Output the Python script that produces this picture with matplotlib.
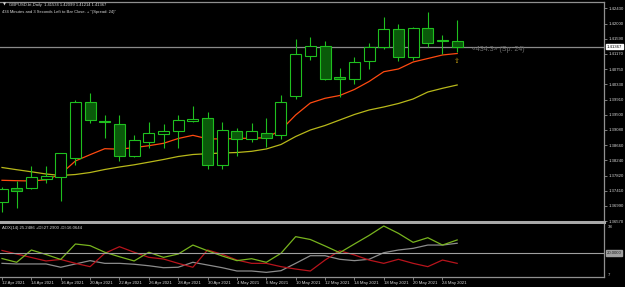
import numpy as np
import matplotlib
matplotlib.use('Agg')
import matplotlib.pyplot as plt
import matplotlib.transforms as mtransforms

# daily GBPUSD bars, 12 Apr 2021 .. 25 May 2021
opens = [1.37095, 1.37472, 1.37472, 1.37728, 1.37791, 1.38297, 1.39837, 1.39309,
         1.39240, 1.38352, 1.38737, 1.38957, 1.39048, 1.39331, 1.39397, 1.38104,
         1.39048, 1.38836, 1.39001, 1.38938, 1.40018, 1.41118, 1.41377, 1.40524,
         1.40469, 1.40981, 1.41349, 1.41844, 1.41091, 1.41872, 1.41536, 1.41534]
highs = [1.37508, 1.37673, 1.38085, 1.38085, 1.38450, 1.39900, 1.40084, 1.39488,
         1.39488, 1.38938, 1.39287, 1.39232, 1.39488, 1.39743, 1.39562, 1.39303,
         1.39122, 1.39259, 1.39397, 1.40038, 1.41569, 1.41641, 1.41514, 1.40772,
         1.41091, 1.41459, 1.42191, 1.41990, 1.41899, 1.42312, 1.41696, 1.42099]
lows = [1.36820, 1.36930, 1.37453, 1.37618, 1.37131, 1.38113, 1.39259, 1.38847,
        1.38231, 1.38324, 1.38572, 1.38572, 1.38588, 1.39295, 1.37994, 1.37994,
        1.38360, 1.38745, 1.38616, 1.38828, 1.39928, 1.41000, 1.40450, 1.39991,
        1.40332, 1.40753, 1.41294, 1.40964, 1.41000, 1.41366, 1.41157, 1.41214]
closes = [1.37444, 1.37411, 1.37774, 1.37818, 1.38434, 1.39837, 1.39350, 1.39298,
          1.38352, 1.38792, 1.38984, 1.39056, 1.39342, 1.39378, 1.38104, 1.39067,
          1.38836, 1.39048, 1.38847, 1.39837, 1.41157, 1.41377, 1.40486, 1.40469,
          1.40945, 1.41358, 1.41844, 1.41091, 1.41872, 1.41476, 1.41550, 1.41367]

ma_fast = [1.37692, 1.37681, 1.37673, 1.37706, 1.37865, 1.38223, 1.38396, 1.38561,
           1.38547, 1.38591, 1.38643, 1.38709, 1.38841, 1.38929, 1.38833, 1.38828,
           1.38841, 1.38850, 1.38861, 1.39075, 1.39488, 1.39818, 1.39947, 1.40024,
           1.40189, 1.40409, 1.40678, 1.40753, 1.40945, 1.41041, 1.41138, 1.41179]
ma_slow = [1.38044, 1.37983, 1.37926, 1.37865, 1.37824, 1.37851, 1.37906, 1.37989,
           1.38058, 1.38118, 1.38190, 1.38264, 1.38346, 1.38401, 1.38423, 1.38443,
           1.38456, 1.38489, 1.38553, 1.38676, 1.38896, 1.39075, 1.39199, 1.39350,
           1.39501, 1.39625, 1.39708, 1.39804, 1.39928, 1.40120, 1.40222, 1.40313]

plus_di = [16.3, 13.8, 22.0, 19.0, 15.7, 26.0, 24.9, 20.5, 17.5, 14.7, 20.5, 17.1,
           19.3, 25.3, 21.5, 18.0, 14.9, 16.2, 13.8, 19.8, 30.9, 29.0, 24.7, 20.2,
           26.0, 31.7, 38.0, 33.1, 27.1, 30.2, 25.3, 28.7]
minus_di = [21.7, 19.3, 17.0, 14.7, 15.7, 13.1, 10.9, 19.8, 24.2, 20.5, 17.1, 16.0,
            13.1, 10.5, 22.0, 19.1, 15.3, 13.1, 13.1, 10.9, 9.3, 8.0, 15.3, 21.5,
            18.7, 15.3, 13.1, 15.8, 13.1, 10.9, 15.3, 13.1]
adx = [13.1, 12.7, 12.7, 12.7, 10.5, 12.7, 14.9, 13.1, 13.1, 12.5, 11.5, 10.2,
       10.5, 13.8, 12.0, 10.2, 8.0, 8.0, 7.1, 8.2, 13.1, 18.2, 18.2, 15.8,
       14.9, 15.8, 20.2, 22.0, 23.1, 25.3, 25.3, 26.5]

date_labels = ['12 Apr 2021', '14 Apr 2021', '16 Apr 2021', '20 Apr 2021',
               '22 Apr 2021', '26 Apr 2021', '28 Apr 2021', '30 Apr 2021',
               '4 May 2021', '6 May 2021', '10 May 2021', '12 May 2021',
               '14 May 2021', '18 May 2021', '20 May 2021', '24 May 2021']
price_ticks = [1.42430, 1.42000, 1.41590, 1.41170, 1.40750, 1.40330, 1.39910,
               1.39500, 1.39080, 1.38660, 1.38240, 1.37820, 1.37410, 1.36990, 1.36570]
last_price = 1.41367

W, H = 625, 287
plt.rcParams['font.family'] = ['Liberation Sans', 'DejaVu Sans']
txt = '#d8d8d8'
frame = '#909090'
candle_line = '#1fbf1f'
bear_fill = '#0a5a0a'
small = 3.1

fig = plt.figure(figsize=(W / 100, H / 100), dpi=100, facecolor='black')
ax = fig.add_axes([0, 1 - 222 / H, 604 / W, 220 / H], facecolor='black')
ax2 = fig.add_axes([0, 1 - 277 / H, 604 / W, 53 / H], facecolor='black')

n = len(opens)
idx = np.arange(n)
xlim = (-0.136, 41.0)

# candles
for i in idx:
    o, h, l, c = opens[i], highs[i], lows[i], closes[i]
    ax.vlines(i, l, h, color=candle_line, lw=0.8, zorder=3)
    lo, hi = min(o, c), max(o, c)
    fc = 'black' if c >= o else bear_fill
    ax.bar(i, max(hi - lo, 0.00002), bottom=lo, width=0.75, facecolor=fc,
           edgecolor=candle_line, lw=0.8, zorder=4)

ax.plot(idx, ma_slow, color='#b8b81a', lw=0.9, zorder=2)
ax.plot(idx, ma_fast, color='#ff4a10', lw=0.9, zorder=2)
ax.axhline(last_price, color='#8a8a8a', lw=0.9, zorder=1)

ax.set_xlim(*xlim)
ax.set_ylim(1.36545, 1.42595)
ax.set_xticks([])
ax.yaxis.tick_right()
ax.set_yticks(price_ticks)
ax.set_yticklabels(['%.5f' % p for p in price_ticks])
ax.tick_params(axis='y', colors=frame, labelcolor=txt, labelsize=small,
               length=2.2, width=0.6, pad=1.2)
ax.spines['left'].set_visible(False)
ax.spines['top'].set_color(frame)
ax.spines['top'].set_linewidth(0.9)
ax.spines['right'].set_color(frame)
ax.spines['right'].set_linewidth(0.9)
ax.spines['bottom'].set_color('#a8a8a8')
ax.spines['bottom'].set_linewidth(2.2)

# current price box
bt = mtransforms.blended_transform_factory(ax.transAxes, ax.transData)
ax.text(1.005, last_price, '%.5f' % last_price, transform=bt, fontsize=small,
        color='black', va='center', ha='left', clip_on=False,
        bbox=dict(boxstyle='square,pad=0.15', fc='white', ec='white'))

# header text
fig.text(3 / W, 1 - 5 / H, '\u25bc', fontsize=2.8, color=txt, va='center',
         family='DejaVu Sans')
fig.text(9 / W, 1 - 5 / H, 'GBPUSD.bt,Daily  1.41534 1.42099 1.41214 1.41367',
         fontsize=3.0, color=txt, va='center')
fig.text(2 / W, 1 - 12.5 / H,
         '434 Minutes and 3 Seconds Left to Bar Close. + "(Spread: 24)"',
         fontsize=3.0, color=txt, va='center')

# countdown label and arrow next to the last bar
ax.text(31 + 1.0, last_price - 0.0008, '\u00ab434.3\u00bb (Sp: 24)', fontsize=5.0,
        color='#6c6c6c', va='center', ha='left')
ax.text(31, 1.4096, '\u21e7', fontsize=5, color='#c8a010', va='center',
        ha='center', family='DejaVu Sans')

# ADX window
ax2.plot(idx, adx, color='#8c8c8c', lw=0.9)
ax2.plot(idx, minus_di, color='#b8141c', lw=0.9)
ax2.plot(idx, plus_di, color='#78b41e', lw=0.9)
ax2.axhline(20, color='#a0a0a0', lw=0.8)
ax2.set_xlim(*xlim)
ax2.set_ylim(4, 39.33)
ax2.set_yticks([])
ax2.set_xticks(idx[::2])
ax2.set_xticklabels(date_labels, ha='left')
ax2.tick_params(axis='x', colors=frame, labelcolor=txt, labelsize=small,
                length=2, width=0.6, pad=1)
ax2.spines['left'].set_visible(False)
ax2.spines['top'].set_visible(False)
for s in ['right', 'bottom']:
    ax2.spines[s].set_color(frame)
    ax2.spines[s].set_linewidth(0.9)
ax2.text(0.003, 0.93, 'ADX(14) 25.2486 +DI:27.2900 -DI:16.0644',
         transform=ax2.transAxes, fontsize=small, color=txt, va='center')
bt2 = mtransforms.blended_transform_factory(ax2.transAxes, ax2.transData)
ax2.text(1.006, 37.5, '38', transform=bt2, fontsize=small, color=txt, va='center')
ax2.text(1.006, 5.0, '7', transform=bt2, fontsize=small, color=txt, va='center')
ax2.text(1.005, 20, '20.0000', transform=bt2, fontsize=small, color='#202020',
         va='center', ha='left', clip_on=False,
         bbox=dict(boxstyle='square,pad=0.15', fc='#a0a0a0', ec='#a0a0a0'))

fig.savefig('out.png', dpi=100, facecolor='black')
